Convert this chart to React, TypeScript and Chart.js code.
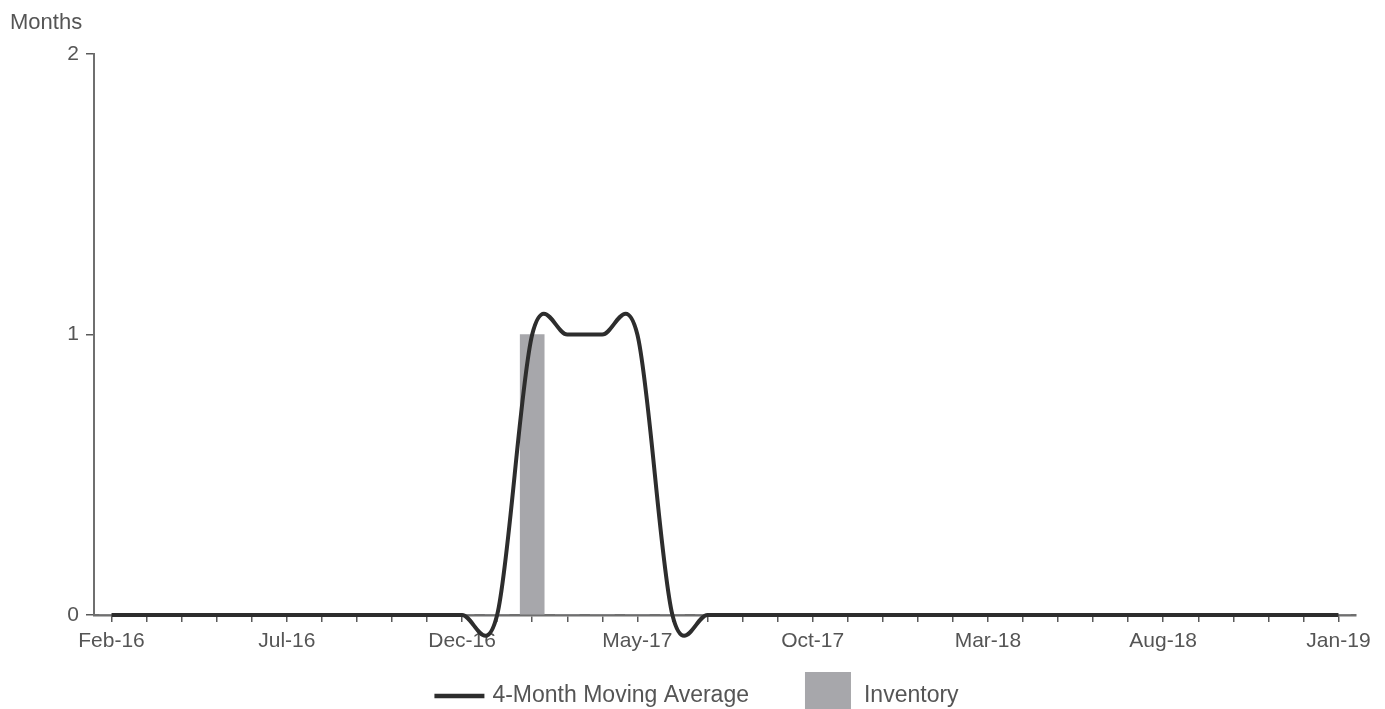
import React, { useEffect, useRef } from 'react';
import { Chart, registerables } from 'chart.js';

Chart.register(...registerables);

// ---- data ----
const months = [
  'Feb-16', 'Mar-16', 'Apr-16', 'May-16', 'Jun-16', 'Jul-16', 'Aug-16', 'Sep-16', 'Oct-16', 'Nov-16', 'Dec-16',
  'Jan-17', 'Feb-17', 'Mar-17', 'Apr-17', 'May-17', 'Jun-17', 'Jul-17', 'Aug-17', 'Sep-17', 'Oct-17', 'Nov-17', 'Dec-17',
  'Jan-18', 'Feb-18', 'Mar-18', 'Apr-18', 'May-18', 'Jun-18', 'Jul-18', 'Aug-18', 'Sep-18', 'Oct-18', 'Nov-18', 'Dec-18',
  'Jan-19',
];
const shownTickLabels = ['Feb-16', 'Jul-16', 'Dec-16', 'May-17', 'Oct-17', 'Mar-18', 'Aug-18', 'Jan-19'];
const inventory = [
  0, 0, 0, 0, 0, 0, 0, 0, 0, 0, 0,
  0, 1, 0, 0, 0, 0, 0, 0, 0, 0, 0, 0,
  0, 0, 0, 0, 0, 0, 0, 0, 0, 0, 0, 0,
  0,
];
const movingAverage = [
  0, 0, 0, 0, 0, 0, 0, 0, 0, 0, 0,
  0, 1, 1, 1, 1, 0, 0, 0, 0, 0, 0, 0,
  0, 0, 0, 0, 0, 0, 0, 0, 0, 0, 0, 0,
  0,
];
const yTicks = [0, 1, 2];
const seriesLabels = ['4-Month Moving Average', 'Inventory'];
const yAxisTitle = 'Months';

// ---- styles ----
const FONT = "'Liberation Sans', Arial, Helvetica, sans-serif";
const TEXT = '#555555';
const AXIS = '#6f6f6f';
const LINE_COLOR = '#2d2d2d';
const BAR_COLOR = '#a7a7ab';

// Smooth (uniform Catmull-Rom) line through the points the line controller placed on the scales
const smoothLinePlugin = {
  id: 'smoothLine',
  afterDatasetsDraw(chart: any) {
    const ctx = chart.ctx;
    chart.data.datasets.forEach((ds: any, i: number) => {
      if (ds.type !== 'line') return;
      const meta = chart.getDatasetMeta(i);
      if (meta.hidden) return;
      const pts = meta.data.map((p: any) => ({ x: p.x, y: p.y }));
      if (!pts.length) return;
      ctx.save();
      ctx.beginPath();
      ctx.moveTo(pts[0].x, pts[0].y);
      for (let k = 0; k < pts.length - 1; k++) {
        const p0 = pts[k - 1] || pts[k];
        const p1 = pts[k];
        const p2 = pts[k + 1];
        const p3 = pts[k + 2] || pts[k + 1];
        const c1x = p1.x + (p2.x - p0.x) / 6;
        const c1y = p1.y + (p2.y - p0.y) / 6;
        const c2x = p2.x - (p3.x - p1.x) / 6;
        const c2y = p2.y - (p3.y - p1.y) / 6;
        ctx.bezierCurveTo(c1x, c1y, c2x, c2y, p2.x, p2.y);
      }
      ctx.strokeStyle = ds.borderColor;
      ctx.lineWidth = ds.borderWidth;
      ctx.lineJoin = 'round';
      ctx.lineCap = 'butt';
      ctx.stroke();
      ctx.restore();
    });
  },
};

// Bottom legend: line sample for line series, filled box for bar series
const bottomLegendPlugin = {
  id: 'bottomLegend',
  afterDraw(chart: any) {
    const ctx = chart.ctx;
    ctx.save();
    ctx.font = `23px ${FONT}`;
    ctx.textBaseline = 'alphabetic';
    ctx.textAlign = 'left';
    const items = chart.data.datasets.map((ds: any) => {
      const isLine = ds.type === 'line';
      const sampleW = isLine ? 50 : 46;
      const gap = isLine ? 8 : 13;
      const tw = ctx.measureText(ds.label).width;
      return { ds, isLine, sampleW, gap, tw, w: sampleW + gap + tw };
    });
    const spacing = 56;
    const total = items.reduce((s: number, it: any) => s + it.w, 0) + spacing * (items.length - 1);
    let x = chart.width / 2 + 4 - total / 2;
    const baseline = 702;
    items.forEach((it: any) => {
      if (it.isLine) {
        ctx.strokeStyle = it.ds.borderColor;
        ctx.lineWidth = 4.5;
        ctx.beginPath();
        ctx.moveTo(x, 696);
        ctx.lineTo(x + it.sampleW, 696);
        ctx.stroke();
      } else {
        ctx.fillStyle = it.ds.backgroundColor;
        ctx.fillRect(x, 672, it.sampleW, 40);
      }
      ctx.fillStyle = TEXT;
      ctx.fillText(it.ds.label, x + it.sampleW + it.gap, baseline);
      x += it.w + spacing;
    });
    ctx.restore();
  },
};

export default function App() {
  const canvasRef = useRef<HTMLCanvasElement | null>(null);

  useEffect(() => {
    if (!canvasRef.current) return;
    const chart = new Chart(canvasRef.current, {
      type: 'bar',
      data: {
        labels: months,
        datasets: [
          {
            type: 'line',
            label: seriesLabels[0],
            data: movingAverage,
            borderColor: LINE_COLOR,
            backgroundColor: LINE_COLOR,
            borderWidth: 4,
            pointRadius: 0,
            showLine: false,
          } as any,
          {
            type: 'bar',
            label: seriesLabels[1],
            data: inventory,
            backgroundColor: BAR_COLOR,
            barThickness: 24,
          } as any,
        ],
      },
      options: {
        animation: false,
        responsive: true,
        maintainAspectRatio: false,
        events: [],
        layout: { padding: { left: 10, right: 29, top: 0, bottom: 54 } },
        plugins: {
          legend: { display: false },
          tooltip: { enabled: false },
          title: {
            display: true,
            text: yAxisTitle,
            align: 'start',
            color: TEXT,
            font: { family: FONT, size: 22, weight: 'normal' },
            padding: { top: 10, bottom: 17.6 },
          },
        },
        scales: {
          x: {
            type: 'category',
            offset: true,
            grid: {
              offset: false,
              drawOnChartArea: false,
              drawTicks: true,
              tickLength: 7,
              color: '#5a5a5a',
              lineWidth: 1.5,
            },
            border: { display: true, color: AXIS, width: 2.5 },
            ticks: {
              autoSkip: false,
              maxRotation: 0,
              minRotation: 0,
              padding: 7,
              color: TEXT,
              font: { family: FONT, size: 21 },
              callback: (_v: any, i: number) => (shownTickLabels.includes(months[i]) ? months[i] : ''),
            },
            afterFit: (s: any) => {
              s.height = 40;
            },
          },
          y: {
            type: 'linear',
            min: yTicks[0],
            max: yTicks[yTicks.length - 1],
            grid: { drawOnChartArea: false, drawTicks: true, tickLength: 8, color: '#5a5a5a', lineWidth: 1.5 },
            border: { display: true, color: AXIS, width: 2 },
            ticks: {
              stepSize: 1,
              padding: 7,
              color: TEXT,
              font: { family: FONT, size: 21 },
            },
            afterFit: (s: any) => {
              s.width = 84;
            },
          },
        },
      } as any,
      plugins: [smoothLinePlugin, bottomLegendPlugin],
    });
    return () => chart.destroy();
  }, []);

  return (
    <div style={{ position: 'fixed', left: 0, top: 0, width: 1385, height: 709, background: '#fff' }}>
      <canvas ref={canvasRef} />
    </div>
  );
}
